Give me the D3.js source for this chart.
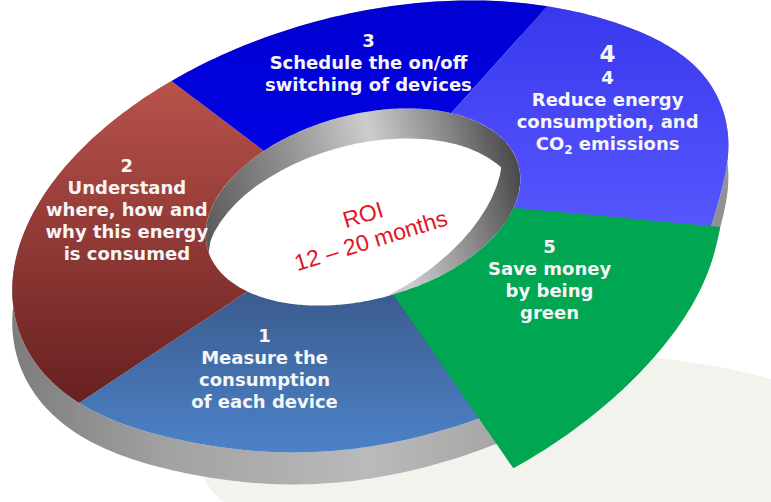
<!DOCTYPE html>
<html lang="en">
<head>
  <meta charset="UTF-8">
  <script src="https://cdn.jsdelivr.net/npm/d3@7"></script>
  <title>Energy cycle</title>
  <style>
    body { margin: 0; background: #fff; }
    svg { display: block; }
    .label { font-family: "DejaVu Sans", Verdana, sans-serif; font-weight: bold; font-size: 18px; fill: #f6f6f6; }
    .roi { font-family: "Liberation Sans", Arial, sans-serif; font-size: 23px; fill: #e2151f; }
  </style>
</head>
<body>
<div id="chart"></div>
<script>
  // steps of the cycle, in order round the ring
  var stepIds = [1, 2, 3, 4, 5];
  // share of the ring each step takes (degrees)
  var stepSpans = [72.5, 91, 63, 77, 56.5];
  var stepLines = [
    ["1", "Measure the", "consumption", "of each device"],
    ["2", "Understand", "where, how and", "why this energy", "is consumed"],
    ["3", "Schedule the on/off", "switching of devices"],
    ["4", "4", "Reduce energy", "consumption, and", "CO2 emissions"],
    ["5", "Save money", "by being", "green"]
  ];
  var centreLines = ["ROI", "12 \u2013 20 months"];

  // layout
  var width = 771, height = 502;
  var tilt = -15;                        // degrees the whole ring is turned
  var outerE = {cx: 372, cy: 228, a: 368, b: 214};
  var innerE = {cx: 363, cy: 207, a: 161, b: 92.5};
  var apex = [355, 220];                 // slice edges run out from here
  // small dents/bulges of the drawn rim: [angle deg, width deg, amount]
  var rimBumps = [[130, 22, -0.025], [19, 15, -0.025], [340, 18, 0.02]];
  var depth = 32, holeDepth = 30;
  var startDeg = 81.5;                   // where step 1 begins on the rim
  var explodedStep = 5, tuck = 6;        // neighbours run this many degrees under it
  var pull = {outerStart: [10, -2], outerEnd: [34, 50], innerStart: -9.3, innerEnd: 2.6};
  // label anchor: [fraction along slice, fraction from inner to outer rim]
  var labelAt = [[0.6, 0.45], [0.62, 0.48], [0.54, 0.48], [0.40, 0.545], [0.4, 0.36]];
  var headSize = [18, 18, 18, 23, 18];
  var faceColors = {
    1: ["#3a5b8d", "#4c82c8"],
    2: ["#b9524b", "#672020"],
    3: ["#0000d2", "#0202e2"],
    4: ["#3838ee", "#5a5aff"],
    5: ["#00a651", "#00a651"]
  };

  var rad = Math.PI / 180;
  var ct = Math.cos(tilt * rad), st = Math.sin(tilt * rad);

  function rimFactor(t) {
    var deg = t / rad;
    return 1 + d3.sum(rimBumps, function(b) {
      var d = ((deg - b[0]) % 360 + 540) % 360 - 180;
      return b[2] * Math.exp(-(d / b[1]) * (d / b[1]));
    });
  }
  function onEllipse(e, t, f, dy) {
    var u = e.a * Math.cos(t) * f, v = e.b * Math.sin(t) * f;
    return [e.cx + u * ct - v * st, e.cy + u * st + v * ct + (dy || 0)];
  }
  function outerPt(t, dy) { return onEllipse(outerE, t, rimFactor(t), dy); }
  function toLocal(e, p) {
    var dx = p[0] - e.cx, dy = p[1] - e.cy;
    return [dx * ct + dy * st, -dx * st + dy * ct];
  }
  // where the line from the apex to p crosses the hole's rim
  function innerHit(p) {
    var L = toLocal(innerE, apex), P = toLocal(innerE, p);
    var D = [P[0] - L[0], P[1] - L[1]];
    var a2 = innerE.a * innerE.a, b2 = innerE.b * innerE.b;
    var A = D[0] * D[0] / a2 + D[1] * D[1] / b2;
    var B = 2 * (L[0] * D[0] / a2 + L[1] * D[1] / b2);
    var C = L[0] * L[0] / a2 + L[1] * L[1] / b2 - 1;
    var s = (-B + Math.sqrt(B * B - 4 * A * C)) / (2 * A);
    return [apex[0] + s * (p[0] - apex[0]), apex[1] + s * (p[1] - apex[1])];
  }
  function innerParam(p) {
    var l = toLocal(innerE, p);
    return Math.atan2(l[1] / innerE.b, l[0] / innerE.a);
  }
  function ringPoint(t, r) {
    var o = outerPt(t);
    return d3.interpolateArray(innerHit(o), o)(r);
  }
  function steps(t0, t1) {
    var n = Math.max(2, Math.ceil(Math.abs(t1 - t0) / rad));
    return d3.range(n + 1).map(function(i) { return t0 + (t1 - t0) * i / n; });
  }

  var data = stepIds.map(function(id, i) { return {id: id, span: stepSpans[i], lines: stepLines[i]}; });

  // d3.pie gives clockwise angles from 12 o'clock; rim angle t starts at 3 o'clock
  var pie = d3.pie().sort(null).value(function(d) { return d.span; })
    .startAngle((startDeg + 90) * rad).endAngle((startDeg + 450) * rad);
  var slices = pie(data).map(function(p) {
    p.t0 = p.startAngle - Math.PI / 2;
    p.t1 = p.endAngle - Math.PI / 2;
    return p;
  });
  var exIndex = stepIds.indexOf(explodedStep);
  slices.forEach(function(s, i) {
    s.d0 = s.t0; s.d1 = s.t1;
    if (i === (exIndex + 1) % slices.length) s.d0 -= tuck * rad;
    if (i === (exIndex + slices.length - 1) % slices.length) s.d1 += tuck * rad;
  });

  var line = d3.line();

  var svg = d3.select("#chart").append("svg")
    .attr("width", width).attr("height", height);
  var defs = svg.append("defs");

  // gradients
  var sideGrad = defs.append("linearGradient").attr("id", "side")
    .attr("gradientUnits", "userSpaceOnUse").attr("x1", 0).attr("x2", width).attr("y1", 0).attr("y2", 0);
  [[0, "#7a7a7a"], [0.22, "#a2a2a2"], [0.48, "#bababa"], [0.62, "#a9a9a9"], [0.9, "#8d8d8d"], [1, "#9a9a9a"]]
    .forEach(function(s) { sideGrad.append("stop").attr("offset", s[0]).attr("stop-color", s[1]); });

  var wallGrad = defs.append("linearGradient").attr("id", "wall")
    .attr("gradientUnits", "userSpaceOnUse").attr("x1", 200).attr("x2", 525).attr("y1", 0).attr("y2", 0);
  [[0, "#585858"], [0.3, "#8e8e8e"], [0.58, "#cdcdcd"], [0.8, "#8a8a8a"], [1, "#474747"]]
    .forEach(function(s) { wallGrad.append("stop").attr("offset", s[0]).attr("stop-color", s[1]); });

  stepIds.forEach(function(id) {
    var g = defs.append("linearGradient").attr("id", "face" + id)
      .attr("x1", 0).attr("x2", 0).attr("y1", 0).attr("y2", 1);
    g.append("stop").attr("offset", 0).attr("stop-color", faceColors[id][0]);
    g.append("stop").attr("offset", 1).attr("stop-color", faceColors[id][1]);
  });

  defs.append("clipPath").attr("id", "hole").append("ellipse")
    .attr("cx", innerE.cx).attr("cy", innerE.cy).attr("rx", innerE.a).attr("ry", innerE.b)
    .attr("transform", "rotate(" + tilt + "," + innerE.cx + "," + innerE.cy + ")");

  // floor shadow
  svg.append("ellipse")
    .attr("cx", 545).attr("cy", 462).attr("rx", 345).attr("ry", 110)
    .attr("fill", "#f3f3ed");

  var still = slices.filter(function(s) { return s.data.id !== explodedStep; });

  // outer side walls
  svg.append("g").selectAll("path").data(still).enter().append("path")
    .attr("d", function(s) {
      var top = steps(s.d0, s.d1).map(function(t) { return outerPt(t, 0); });
      var bottom = steps(s.d1, s.d0).map(function(t) { return outerPt(t, depth); });
      return line(top.concat(bottom)) + "Z";
    })
    .attr("fill", "url(#side)");

  // inner wall and floor seen through the hole
  svg.append("ellipse")
    .attr("cx", innerE.cx).attr("cy", innerE.cy).attr("rx", innerE.a).attr("ry", innerE.b)
    .attr("transform", "rotate(" + tilt + "," + innerE.cx + "," + innerE.cy + ")")
    .attr("fill", "url(#wall)");
  svg.append("ellipse")
    .attr("clip-path", "url(#hole)")
    .attr("cx", innerE.cx).attr("cy", innerE.cy + holeDepth).attr("rx", innerE.a).attr("ry", innerE.b)
    .attr("transform", "rotate(" + tilt + "," + innerE.cx + "," + (innerE.cy + holeDepth) + ")")
    .attr("fill", "#ffffff");

  // top faces
  svg.append("g").selectAll("path").data(still).enter().append("path")
    .attr("d", function(s) {
      var o = steps(s.d0, s.d1).map(function(t) { return outerPt(t); });
      var inn = o.slice().reverse().map(innerHit);
      return line(o.concat(inn)) + "Z";
    })
    .attr("fill", function(s) { return "url(#face" + s.data.id + ")"; });

  // pulled-out slice
  var ex = slices[exIndex];
  var tA = innerParam(innerHit(outerPt(ex.t0))) + pull.innerStart * rad;
  var tD = innerParam(innerHit(outerPt(ex.t1))) + pull.innerEnd * rad;
  if (tD < tA) tD += 2 * Math.PI;
  function exOuter(f) {
    var p = outerPt(ex.t0 + (ex.t1 - ex.t0) * f);
    var m = d3.interpolateArray(pull.outerStart, pull.outerEnd)(f);
    return [p[0] + m[0], p[1] + m[1]];
  }
  function exInner(f) { return onEllipse(innerE, tA + (tD - tA) * f, 1); }
  var n = 64;
  var exPts = d3.range(n + 1).map(function(i) { return exOuter(i / n); })
    .concat(d3.range(n + 1).map(function(i) { return exInner(1 - i / n); }));
  svg.append("path")
    .attr("d", line(exPts) + "Z")
    .attr("fill", "url(#face" + explodedStep + ")");

  // labels
  var labels = svg.append("g");
  slices.forEach(function(s, i) {
    var f = labelAt[i][0], r = labelAt[i][1];
    var p = s.data.id === explodedStep
      ? d3.interpolateArray(exInner(f), exOuter(f))(r)
      : ringPoint(s.t0 + (s.t1 - s.t0) * f, r);
    var lines = s.data.lines;
    var y0 = p[1] - (lines.length - 1) * 22 / 2 + 6;
    var txt = labels.append("text").attr("class", "label").attr("text-anchor", "middle");
    lines.forEach(function(l, j) {
      var ts = txt.append("tspan").attr("x", p[0]).attr("y", y0 + j * 22);
      if (j === 0) ts.style("font-size", headSize[i] + "px");
      var sub = l.match(/^(CO)2(.*)$/);
      if (sub) {
        ts.text(sub[1]);
        ts.append("tspan").attr("dy", 4).style("font-size", "12px").text("2");
        ts.append("tspan").attr("dy", -4).text(sub[2]);
      } else {
        ts.text(l);
      }
    });
  });

  // centre text
  var roi = svg.append("text").attr("class", "roi").attr("text-anchor", "middle")
    .attr("transform", "translate(367,228) rotate(-17)");
  centreLines.forEach(function(l, j) {
    roi.append("tspan").attr("x", 0).attr("y", -6 + j * 27).text(l);
  });
</script>
</body>
</html>
